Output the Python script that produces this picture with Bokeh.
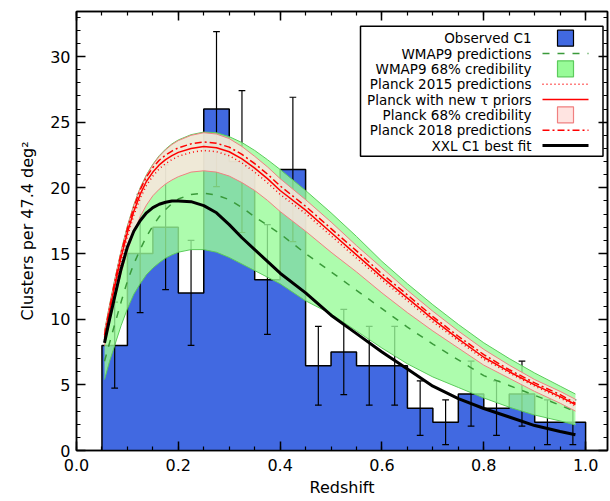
import numpy as np
from bokeh.plotting import figure
from bokeh.models import (SingleIntervalTicker, LinearAxis, CustomJSTickFormatter,
                          Range1d, PrintfTickFormatter)
from bokeh.embed import file_html
from bokeh.resources import INLINE
from bokeh.core.properties import value

# ---------------- data ----------------
bin_left = [0.05, 0.10, 0.15, 0.20, 0.25, 0.30, 0.35, 0.40, 0.45, 0.50,
            0.55, 0.60, 0.65, 0.70, 0.75, 0.80, 0.85, 0.90, 0.95]
bin_width = 0.05
observed = [8.0, 15.0, 17.0, 12.0, 26.0, 22.0, 13.0, 21.4, 6.45, 7.5,
            6.45, 6.45, 3.22, 2.15, 4.3, 3.22, 4.3, 2.15, 2.15]
err_low = [4.75, 10.5, 12.25, 8.0, 20.1, 16.6, 8.85, 15.9, 3.45, 4.25,
           3.45, 3.45, 1.15, 0.45, 1.85, 1.15, 1.85, 0.45, 0.45]
err_high = [11.3, 19.5, 21.75, 16.0, 31.9, 27.4, 17.2, 26.9, 9.45, 10.75,
            9.45, 9.45, 5.3, 3.85, 6.8, 5.3, 6.8, 3.85, 3.85]

z_model = [0.055, 0.065, 0.075, 0.0875, 0.10, 0.1125, 0.125, 0.1375, 0.15, 0.1625,
           0.175, 0.1875, 0.20, 0.225, 0.25, 0.275, 0.30, 0.325, 0.35, 0.375,
           0.40, 0.45, 0.50, 0.55, 0.60, 0.65, 0.70, 0.75, 0.80, 0.85,
           0.90, 0.95, 0.98]
wmap9 = [6.8, 8.2, 9.6, 11.3, 12.9, 14.2, 15.3, 16.3, 17.1, 17.8,
         18.35, 18.8, 19.15, 19.5, 19.6, 19.45, 19.1, 18.5, 17.8, 17.15,
         16.5, 15.0, 13.6, 12.2, 10.8, 9.4, 8.1, 6.9, 5.7, 4.95,
         4.2, 3.45, 2.95]
wmap9_hi = [9.1, 11.1, 13.0, 15.2, 17.1, 18.7, 20.0, 21.0, 21.8, 22.45,
            22.95, 23.35, 23.65, 24.05, 24.25, 24.2, 23.9, 23.45, 22.85, 22.15,
            21.4, 19.8, 18.1, 16.3, 14.4, 12.7, 11.1, 9.6, 8.2, 7.0,
            5.9, 4.9, 4.3]
wmap9_lo = [5.4, 6.8, 8.0, 9.5, 10.8, 11.9, 12.7, 13.4, 13.9, 14.3,
            14.65, 14.9, 15.1, 15.3, 15.3, 15.1, 14.7, 14.2, 13.7, 13.2,
            12.7, 11.4, 10.4, 9.1, 7.8, 6.6, 5.6, 4.8, 4.0, 3.3,
            2.7, 2.25, 1.95]
planck_new_tau = [8.6, 10.6, 12.5, 14.7, 16.6, 18.2, 19.5, 20.5, 21.2, 21.75,
                  22.15, 22.45, 22.7, 23.0, 23.15, 23.05, 22.75, 22.2, 21.5, 20.7,
                  19.8, 18.3, 16.6, 14.9, 13.2, 11.6, 10.0, 8.5, 7.1, 6.0,
                  5.0, 4.1, 3.5]
planck2015 = [8.4, 10.4, 12.25, 14.4, 16.3, 17.9, 19.2, 20.2, 20.9, 21.45,
              21.85, 22.15, 22.4, 22.7, 22.85, 22.75, 22.45, 21.9, 21.2, 20.4,
              19.5, 18.05, 16.35, 14.65, 13.0, 11.4, 9.8, 8.35, 6.95, 5.9,
              4.9, 4.0, 3.4]
planck2018 = [8.8, 10.85, 12.8, 15.0, 16.9, 18.5, 19.85, 20.85, 21.55, 22.1,
              22.5, 22.8, 23.05, 23.35, 23.5, 23.4, 23.1, 22.55, 21.85, 21.05,
              20.15, 18.6, 16.9, 15.2, 13.45, 11.85, 10.2, 8.7, 7.3, 6.15,
              5.15, 4.25, 3.6]
planck_hi = [9.05, 11.05, 12.95, 15.15, 17.05, 18.65, 19.95, 20.95, 21.75, 22.4,
             22.9, 23.3, 23.6, 24.0, 24.2, 24.1, 23.75, 23.15, 22.4, 21.6,
             20.7, 19.1, 17.4, 15.6, 13.9, 12.2, 10.6, 9.1, 7.7, 6.5,
             5.4, 4.5, 3.9]
planck_lo = [8.0, 9.8, 11.5, 13.5, 15.2, 16.6, 17.8, 18.7, 19.4, 19.9,
             20.3, 20.6, 20.85, 21.2, 21.3, 21.2, 20.9, 20.4, 19.8, 19.05,
             18.2, 16.7, 15.1, 13.6, 12.0, 10.5, 9.1, 7.8, 6.5, 5.5,
             4.5, 3.6, 3.0]
xxl_fit = [8.2, 10.0, 11.7, 13.8, 15.5, 16.7, 17.5, 18.1, 18.5, 18.75,
           18.9, 19.0, 19.0, 18.95, 18.65, 18.1, 17.2, 16.2, 15.3, 14.4,
           13.5, 12.0, 10.3, 8.9, 7.5, 6.2, 4.9, 3.95, 3.2, 2.55,
           1.9, 1.45, 1.2]

legend_labels = ["Observed C1", "WMAP9 predictions", "WMAP9 68% credibility",
                 "Planck 2015 predictions", "Planck with new \u03c4 priors",
                 "Planck 68% credibility", "Planck 2018 predictions",
                 "XXL C1 best fit"]

# ---------------- styles ----------------
BLUE = "#4169E1"
GREEN_FILL = "#98FB98"
GREEN_EDGE = "#5CCB5C"
GREEN_DASH = "#3A9A3A"
PINK_FILL = "#FFE4E1"
PINK_EDGE = "#F08080"
RED = "#FF0000"
FONT = "DejaVu Sans"

X_MAX = 1.043
Y_MAX = 33.43

p = figure(width=610, height=501, x_range=Range1d(0, X_MAX), y_range=Range1d(0, Y_MAX),
           output_backend="svg", toolbar_location=None,
           min_border_left=76, min_border_right=3, min_border_top=11, min_border_bottom=51)
p.background_fill_color = "white"
p.border_fill_color = "white"
p.outline_line_color = "black"
p.outline_line_width = 1.5
p.xgrid.visible = False
p.ygrid.visible = False

# ---------------- histogram (single outline polygon, no seams) ----------------
lefts = np.array(bin_left)
rights = lefts + bin_width
obs = np.array(observed)
ox = [lefts[0]]
oy = [0.0]
for l, r, v in zip(lefts, rights, obs):
    ox += [l, r]
    oy += [v, v]
ox.append(rights[-1])
oy.append(0.0)
p.patch(ox, oy, fill_color=BLUE, line_color=None)
p.line(ox, oy, line_color="black", line_width=1.5)

centers = lefts + bin_width / 2
p.segment(x0=centers, y0=err_low, x1=centers, y1=err_high, line_color="black", line_width=1.2)
cap = 0.0066
p.segment(x0=centers - cap, y0=err_low, x1=centers + cap, y1=err_low, line_color="black", line_width=1.2)
p.segment(x0=centers - cap, y0=err_high, x1=centers + cap, y1=err_high, line_color="black", line_width=1.2)

# ---------------- bands ----------------
p.varea(x=z_model, y1=wmap9_lo, y2=wmap9_hi, fill_color=GREEN_FILL, fill_alpha=0.8)
p.line(z_model, wmap9_lo, line_color=GREEN_EDGE, line_width=1)
p.line(z_model, wmap9_hi, line_color=GREEN_EDGE, line_width=1)
p.varea(x=z_model, y1=planck_lo, y2=planck_hi, fill_color=PINK_FILL, fill_alpha=0.8)
p.line(z_model, planck_lo, line_color=PINK_EDGE, line_width=1)
p.line(z_model, planck_hi, line_color=PINK_EDGE, line_width=1)

# ---------------- model lines ----------------
p.line(z_model, wmap9, line_color=GREEN_DASH, line_width=1.5, line_dash="7 8")
p.line(z_model, planck2015, line_color=RED, line_width=1.5, line_dash="1 3")
p.line(z_model, planck_new_tau, line_color=RED, line_width=1.5)
p.line(z_model, planck2018, line_color=RED, line_width=1.5, line_dash="7 3 2 3")
p.line(z_model, xxl_fit, line_color="black", line_width=3)

# ---------------- legend (layout in canvas pixels -> data) ----------------
FL, FR, FT, FB = 76.0, 607.0, 11.0, 450.0
def X(px):
    return X_MAX * (px - FL) / (FR - FL)
def Y(py):
    return Y_MAX * (FB - py) / (FB - FT)

ROW0, DROW = 37.7, 15.33
p.quad(left=X(360), right=X(602.5), top=Y(25.7), bottom=Y(155.7),
       fill_color="white", line_color="black", line_width=1.5)
row_y = [Y(ROW0 + DROW * i) for i in range(8)]
p.text(x=[X(531)] * 8, y=row_y, text=legend_labels, text_align="right",
       text_baseline="middle", text_font=value(FONT), text_font_size="13.5px",
       text_color="black")
sq_l, sq_r = X(557), X(573)
ln_l, ln_r = X(542), X(588)
def sq(i, fill, edge):
    yc = ROW0 + DROW * i
    p.quad(left=sq_l, right=sq_r, top=Y(yc - 8), bottom=Y(yc + 8),
           fill_color=fill, line_color=edge, line_width=1.2)
def ln(i, color, width, dash="solid"):
    p.line([ln_l, ln_r], [row_y[i], row_y[i]], line_color=color, line_width=width, line_dash=dash)
sq(0, BLUE, "black")
ln(1, GREEN_DASH, 1.5, "7 8")
sq(2, GREEN_FILL, GREEN_EDGE)
ln(3, RED, 1.5, "1 3")
ln(4, RED, 1.5)
sq(5, PINK_FILL, PINK_EDGE)
ln(6, RED, 1.5, "7 3 2 3")
ln(7, "black", 3)

# ---------------- axes ----------------
p.xaxis.ticker = SingleIntervalTicker(interval=0.2, num_minor_ticks=4)
p.yaxis.ticker = SingleIntervalTicker(interval=5, num_minor_ticks=5)
p.xaxis.formatter = PrintfTickFormatter(format="%.1f")
p.xaxis.axis_label = "Redshift"
p.yaxis.axis_label = "Clusters per 47.4 deg\u00b2"
for ax in (p.xaxis[0], p.yaxis[0]):
    ax.major_tick_in = 9
    ax.major_tick_out = 0
    ax.minor_tick_in = 4
    ax.minor_tick_out = 0
    ax.axis_line_width = 1.5
    ax.major_tick_line_width = 1.5
    ax.minor_tick_line_width = 1.2
    ax.major_label_text_font = FONT
    ax.major_label_text_font_size = "16px"
    ax.major_label_text_color = "black"
    ax.axis_label_text_font = FONT
    ax.axis_label_text_font_size = "16px"
    ax.axis_label_text_font_style = "normal"
    ax.axis_label_text_color = "black"
p.xaxis.major_label_standoff = 8
p.xaxis.axis_label_standoff = 4
p.yaxis.major_label_standoff = 6
p.yaxis.axis_label_standoff = 10

for loc, tk in (("above", SingleIntervalTicker(interval=0.2, num_minor_ticks=4)),
                ("right", SingleIntervalTicker(interval=5, num_minor_ticks=5))):
    ax = LinearAxis(ticker=tk, formatter=CustomJSTickFormatter(code="return ''"),
                    major_tick_in=9, major_tick_out=0, minor_tick_in=4, minor_tick_out=0,
                    major_label_standoff=0, major_label_text_font_size="0px",
                    axis_line_width=1.5, major_tick_line_width=1.5, minor_tick_line_width=1.2)
    p.add_layout(ax, loc)

open("out.html", "w").write(file_html(p, INLINE))
